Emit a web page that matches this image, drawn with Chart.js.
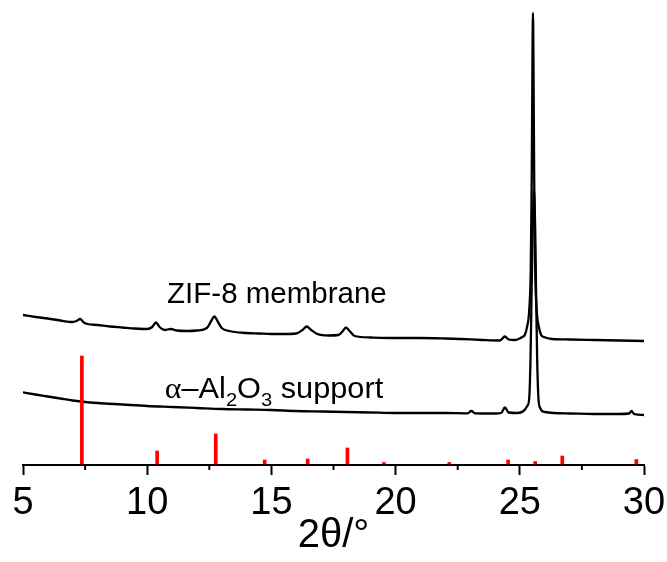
<!DOCTYPE html>
<html>
<head>
<meta charset="utf-8">
<script src="https://cdn.jsdelivr.net/npm/chart.js@4/dist/chart.umd.min.js"></script>
<style>
html,body{margin:0;padding:0;background:#fff;}
#wrap{width:667px;height:562px;position:relative;}
</style>
</head>
<body>
<div id="wrap"><canvas id="c" width="667" height="562"></canvas></div>
<script>
// 2θ positions and offset intensities (arbitrary units)
const membraneX = [5.0,5.5,6.0,6.5,7.0,7.15,7.3,7.45,7.6,8.0,8.5,9.0,9.5,10.0,10.2,10.35,10.5,10.7,10.95,11.2,11.6,12.0,12.4,12.6,12.7,12.85,13.0,13.3,14.0,14.5,15.0,15.5,16.0,16.25,16.42,16.6,16.85,17.3,17.7,17.88,18.0,18.15,18.35,19.0,20.0,21.0,22.0,22.6,23.5,24.2,24.4,24.55,24.8,25.1,25.2,25.3,25.38,25.44,25.48,25.51,25.53,25.55,25.58,25.62,25.68,25.76,25.86,25.97,26.3,27.0,28.0,29.0,30.0];
const membraneY = [149,147,145.5,143.5,142,143,145,141.5,140,139,137.5,136.5,135.5,135,137,141.5,137,134,135,133.5,133,133.5,136,144,147.5,142,136,133,131,130.5,130,130,130.5,134,137.5,134,130,128.5,129,133,136.5,133,128,126.5,126,126,125.5,125,124,123.5,127.5,124.5,124,127,129,138,154,194,284,404,451,404,284,194,154,138,129,127,125,124.5,124,123.5,123];

const supportX = [5.0,5.5,6.0,6.5,7.0,7.5,8.0,9.0,10.0,11.0,12.0,13.0,14.0,15.0,16.0,17.0,18.0,19.0,20.0,21.0,22.0,22.9,23.05,23.2,24.0,24.25,24.4,24.55,24.9,25.15,25.3,25.38,25.43,25.47,25.52,25.57,25.62,25.66,25.70,25.75,25.82,26.0,27.0,28.0,29.0,29.4,29.5,29.6,30.0];
const supportY = [71.7,69.5,67.5,65.5,63.5,62,61,59.5,58,57,56,55,54.5,54,53,52.5,52,51.5,51,51,51,50.7,53,50.7,50.5,51,56.5,51.5,51,53,58,66,104,164,234,274,234,164,104,66,56,52,50.5,50,50,50.5,53,50,49];

// simulated ZIF-8 pattern (red sticks)
const stickX = [7.37,10.40,12.76,14.73,16.46,18.06,19.53,22.16,24.53,25.62,26.71,29.69];
const stickY = [108,13,30,4,5,16,1.5,1.5,4,2.5,8,4.5];

const xTicks = [5,10,15,20,25,30];
const minorTicks = [7.5,12.5,17.5,22.5,27.5];

const labelMembrane = 'ZIF-8 membrane';

const toPts = (xs, ys) => xs.map((x, i) => ({x: x, y: ys[i]}));

const FONT = "'Liberation Sans', Arial, sans-serif";

const extras = {
  id: 'extras',
  afterDraw(chart) {
    const ctx = chart.ctx;
    const xs = chart.scales.x, ys = chart.scales.y;
    const bottom = chart.chartArea.bottom;
    ctx.save();
    // minor ticks
    ctx.strokeStyle = '#000';
    ctx.lineWidth = 2;
    minorTicks.forEach(v => {
      const px = xs.getPixelForValue(v);
      ctx.beginPath();
      ctx.moveTo(px, bottom);
      ctx.lineTo(px, bottom + 5);
      ctx.stroke();
    });
    // labels
    ctx.fillStyle = '#000';
    ctx.textBaseline = 'alphabetic';
    ctx.textAlign = 'left';
    ctx.font = '29.5px ' + FONT;
    ctx.fillText(labelMembrane, xs.getPixelForValue(10.8), ys.getPixelForValue(161));

    const x0 = xs.getPixelForValue(10.71);
    const x1 = xs.getPixelForValue(19.5);
    const yb = ys.getPixelForValue(66);
    const parts = [
      {t: 'α', f: "30px 'Liberation Serif', serif", d: 0},
      {t: '–', f: '29px ' + FONT, d: 0},
      {t: 'Al', f: '29px ' + FONT, d: 0},
      {t: '2', f: '19px ' + FONT, d: 8},
      {t: 'O', f: '29px ' + FONT, d: 0},
      {t: '3', f: '19px ' + FONT, d: 8},
      {t: ' support', f: '29px ' + FONT, d: 0}
    ];
    let total = 0;
    parts.forEach(p => { ctx.font = p.f; total += ctx.measureText(p.t).width; });
    const k = (x1 - x0) / total;
    ctx.translate(x0, yb);
    ctx.scale(k, 1);
    let x = 0;
    parts.forEach(p => {
      ctx.font = p.f;
      ctx.fillText(p.t, x, p.d);
      x += ctx.measureText(p.t).width;
    });
    ctx.restore();
  }
};

new Chart(document.getElementById('c'), {
  data: {
    datasets: [
      {
        type: 'bar',
        label: 'ZIF-8 simulated',
        data: toPts(stickX, stickY),
        backgroundColor: '#ff0000',
        borderWidth: 0,
        barThickness: 3,
        order: 0
      },
      {
        type: 'line',
        label: 'ZIF-8 membrane',
        data: toPts(membraneX, membraneY),
        borderColor: '#000',
        borderWidth: 2.3,
        pointRadius: 0,
        cubicInterpolationMode: 'monotone',
        fill: false,
        order: 1
      },
      {
        type: 'line',
        label: 'α-Al2O3 support',
        data: toPts(supportX, supportY),
        borderColor: '#000',
        borderWidth: 2.3,
        pointRadius: 0,
        cubicInterpolationMode: 'monotone',
        fill: false,
        order: 1
      }
    ]
  },
  options: {
    responsive: false,
    animation: false,
    devicePixelRatio: 1,
    layout: {padding: {left: 23, right: 23, top: 5, bottom: 0}},
    plugins: {legend: {display: false}, tooltip: {enabled: false}},
    scales: {
      x: {
        type: 'linear',
        position: 'bottom',
        min: 5,
        max: 30,
        offset: false,
        afterBuildTicks(scale) { scale.ticks = xTicks.map(v => ({value: v})); },
        ticks: {
          color: '#000',
          font: {family: FONT, size: 38},
          padding: 6,
          maxRotation: 0,
          autoSkip: false
        },
        grid: {offset: false, drawOnChartArea: false, drawTicks: true, tickLength: 10, tickColor: '#000', tickWidth: 2},
        border: {display: true, color: '#000', width: 2},
        title: {display: true, text: '2θ/°', color: '#000', font: {family: FONT, size: 40}, padding: {top: 0, bottom: 2}},
        afterFit(scale) {
          scale.height = 97;
          scale.paddingLeft = 0;
          scale.paddingRight = 0;
        }
      },
      y: {display: false, min: -1, max: 459}
    }
  },
  plugins: [extras]
});
</script>
</body>
</html>
